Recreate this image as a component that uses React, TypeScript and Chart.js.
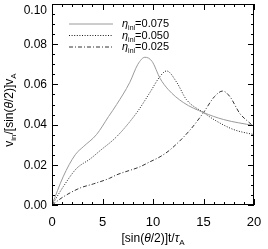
import React, { useEffect, useRef } from "react";
import { Chart, registerables } from "chart.js";

Chart.register(...registerables);

// ---- data ----
const xTickValues = [0, 5, 10, 15, 20];
const yTickValues = [0, 0.02, 0.04, 0.06, 0.08, 0.1];
const legendValues = ["0.075", "0.050", "0.025"];

const x075 = [0, 1.1, 2.3, 3.1, 4.4, 5.6, 6.4, 7.7, 8.5, 9.2, 9.9, 10.7, 11.5, 13, 15, 17, 20];
const y075 = [0, 0.014, 0.025, 0.029, 0.035, 0.044, 0.05, 0.061, 0.07, 0.0735, 0.0715, 0.063, 0.0575, 0.051, 0.046, 0.0425, 0.0395];

const x050 = [0, 1.1, 2.4, 3.8, 4.75, 6.4, 8.4, 9.7, 10.7, 11.35, 12.35, 13.3, 15, 16.3, 18, 20];
const y050 = [0, 0.009, 0.018, 0.023, 0.027, 0.034, 0.046, 0.056, 0.064, 0.0667, 0.061, 0.0525, 0.046, 0.0417, 0.0375, 0.035];

const x025 = [0, 1.1, 2.8, 4.1, 5.7, 6.4, 8.7, 9.7, 10.7, 11.7, 13.7, 15, 16.1, 16.9, 17.6, 18.6, 19.3, 20];
const y025 = [0, 0.004, 0.0085, 0.0105, 0.0133, 0.015, 0.019, 0.0215, 0.024, 0.0275, 0.0375, 0.046, 0.054, 0.0567, 0.054, 0.0455, 0.042, 0.039];

const FONT = "'Liberation Sans', Arial, Helvetica, sans-serif";

const colors = ["#9a9a9a", "#1a1a1a", "#333333"];
const dashes: number[][] = [[], [1, 1.6], [4, 2, 1, 2]];

const toPts = (xs: number[], ys: number[]) => xs.map((x, i) => ({ x, y: ys[i] }));

type Part = { t: string; sub?: boolean; it?: boolean };

function partFont(p: Part, size: number) {
  const s = p.sub ? Math.round(size * 0.68) : size;
  return `${p.it ? "italic " : ""}${s}px ${FONT}`;
}

function drawRich(ctx: CanvasRenderingContext2D, parts: Part[], x: number, y: number, size: number, align: "left" | "center") {
  let total = 0;
  for (const p of parts) {
    ctx.font = partFont(p, size);
    total += ctx.measureText(p.t).width;
  }
  let cx = align === "center" ? x - total / 2 : x;
  ctx.textAlign = "left";
  ctx.textBaseline = "alphabetic";
  for (const p of parts) {
    ctx.font = partFont(p, size);
    ctx.fillText(p.t, cx, p.sub ? y + size * 0.28 : y);
    cx += ctx.measureText(p.t).width;
  }
}

const decorPlugin = {
  id: "decor",
  afterDraw(chart: any) {
    const ctx: CanvasRenderingContext2D = chart.ctx;
    const { left, right, top, bottom } = chart.chartArea;
    const xs = chart.scales.x;
    const ys = chart.scales.y;
    ctx.save();
    ctx.strokeStyle = "#000";
    ctx.lineWidth = 1;
    ctx.setLineDash([]);
    // frame
    ctx.strokeRect(left + 0.5, top + 0.5, right - left - 1, bottom - top - 1);
    // x ticks
    for (let v = 0; v <= 20; v += 1) {
      const px = Math.round(xs.getPixelForValue(v)) + 0.5;
      const len = v % 5 === 0 ? 6 : 3;
      ctx.beginPath();
      ctx.moveTo(px, bottom);
      ctx.lineTo(px, bottom - len);
      ctx.moveTo(px, top);
      ctx.lineTo(px, top + len);
      ctx.stroke();
    }
    // y ticks
    for (let i = 0; i <= 20; i++) {
      const v = i * 0.005;
      const py = Math.round(ys.getPixelForValue(v)) + 0.5;
      const len = i % 4 === 0 ? 6 : 3;
      ctx.beginPath();
      ctx.moveTo(left, py);
      ctx.lineTo(left + len, py);
      ctx.moveTo(right, py);
      ctx.lineTo(right - len, py);
      ctx.stroke();
    }
    // tick labels
    ctx.fillStyle = "#000";
    ctx.font = `12px ${FONT}`;
    ctx.textAlign = "right";
    ctx.textBaseline = "middle";
    for (const v of yTickValues) {
      let py = ys.getPixelForValue(v);
      if (py < 10) py = 10;
      ctx.fillText(v.toFixed(2), left - 5, py + 0.5);
    }
    ctx.textAlign = "center";
    ctx.textBaseline = "middle";
    ctx.font = `13px ${FONT}`;
    for (const v of xTickValues) {
      ctx.fillText(String(v), xs.getPixelForValue(v), bottom + 17);
    }
    // x title
    drawRich(
      ctx,
      [{ t: "[sin(" }, { t: "θ", it: true }, { t: "/2)]t/" }, { t: "τ", it: true }, { t: "A", sub: true }],
      (left + right) / 2,
      bottom + 37,
      12,
      "center"
    );
    // y title
    ctx.save();
    ctx.translate(13, 110);
    ctx.rotate(-Math.PI / 2);
    drawRich(
      ctx,
      [{ t: "v" }, { t: "in", sub: true }, { t: "/[sin(" }, { t: "θ", it: true }, { t: "/2)]v" }, { t: "A", sub: true }],
      0,
      0,
      12,
      "center"
    );
    ctx.restore();
    // legend
    const rows = [24, 35.5, 47];
    legendValues.forEach((val, i) => {
      ctx.strokeStyle = colors[i];
      ctx.setLineDash(dashes[i]);
      ctx.beginPath();
      ctx.moveTo(69, rows[i]);
      ctx.lineTo(113, rows[i]);
      ctx.stroke();
      ctx.setLineDash([]);
      ctx.fillStyle = "#000";
      drawRich(ctx, [{ t: "η", it: true }, { t: "ini", sub: true }, { t: "=" + val }], 122, rows[i] + 3, 11, "left");
    });
    ctx.restore();
  },
};

export default function App() {
  const ref = useRef<HTMLCanvasElement | null>(null);
  useEffect(() => {
    if (!ref.current) return;
    const series = [toPts(x075, y075), toPts(x050, y050), toPts(x025, y025)];
    const chart = new Chart(ref.current, {
      type: "line",
      data: {
        datasets: series.map((d, i) => ({
          label: legendValues[i],
          data: d,
          borderColor: colors[i],
          borderWidth: 1,
          borderDash: dashes[i],
          pointRadius: 0,
          fill: false,
          cubicInterpolationMode: "monotone" as const,
        })),
      },
      options: {
        responsive: false,
        animation: false,
        events: [],
        layout: { padding: { top: 4, right: 14, left: 0, bottom: 0 } },
        plugins: { legend: { display: false }, tooltip: { enabled: false } },
        scales: {
          x: {
            type: "linear",
            min: 0,
            max: 20,
            grid: { display: false },
            border: { display: false },
            ticks: { display: false },
            afterFit: (s: any) => {
              s.height = 44;
            },
          },
          y: {
            type: "linear",
            min: 0,
            max: 0.1,
            grid: { display: false },
            border: { display: false },
            ticks: { display: false },
            afterFit: (s: any) => {
              s.width = 52;
            },
          },
        },
      },
      plugins: [decorPlugin],
    });
    return () => chart.destroy();
  }, []);
  return (
    <div style={{ position: "absolute", left: 0, top: 0, width: 268, height: 249, background: "#fff" }}>
      <canvas ref={ref} width={268} height={249} style={{ width: 268, height: 249 }} />
    </div>
  );
}
